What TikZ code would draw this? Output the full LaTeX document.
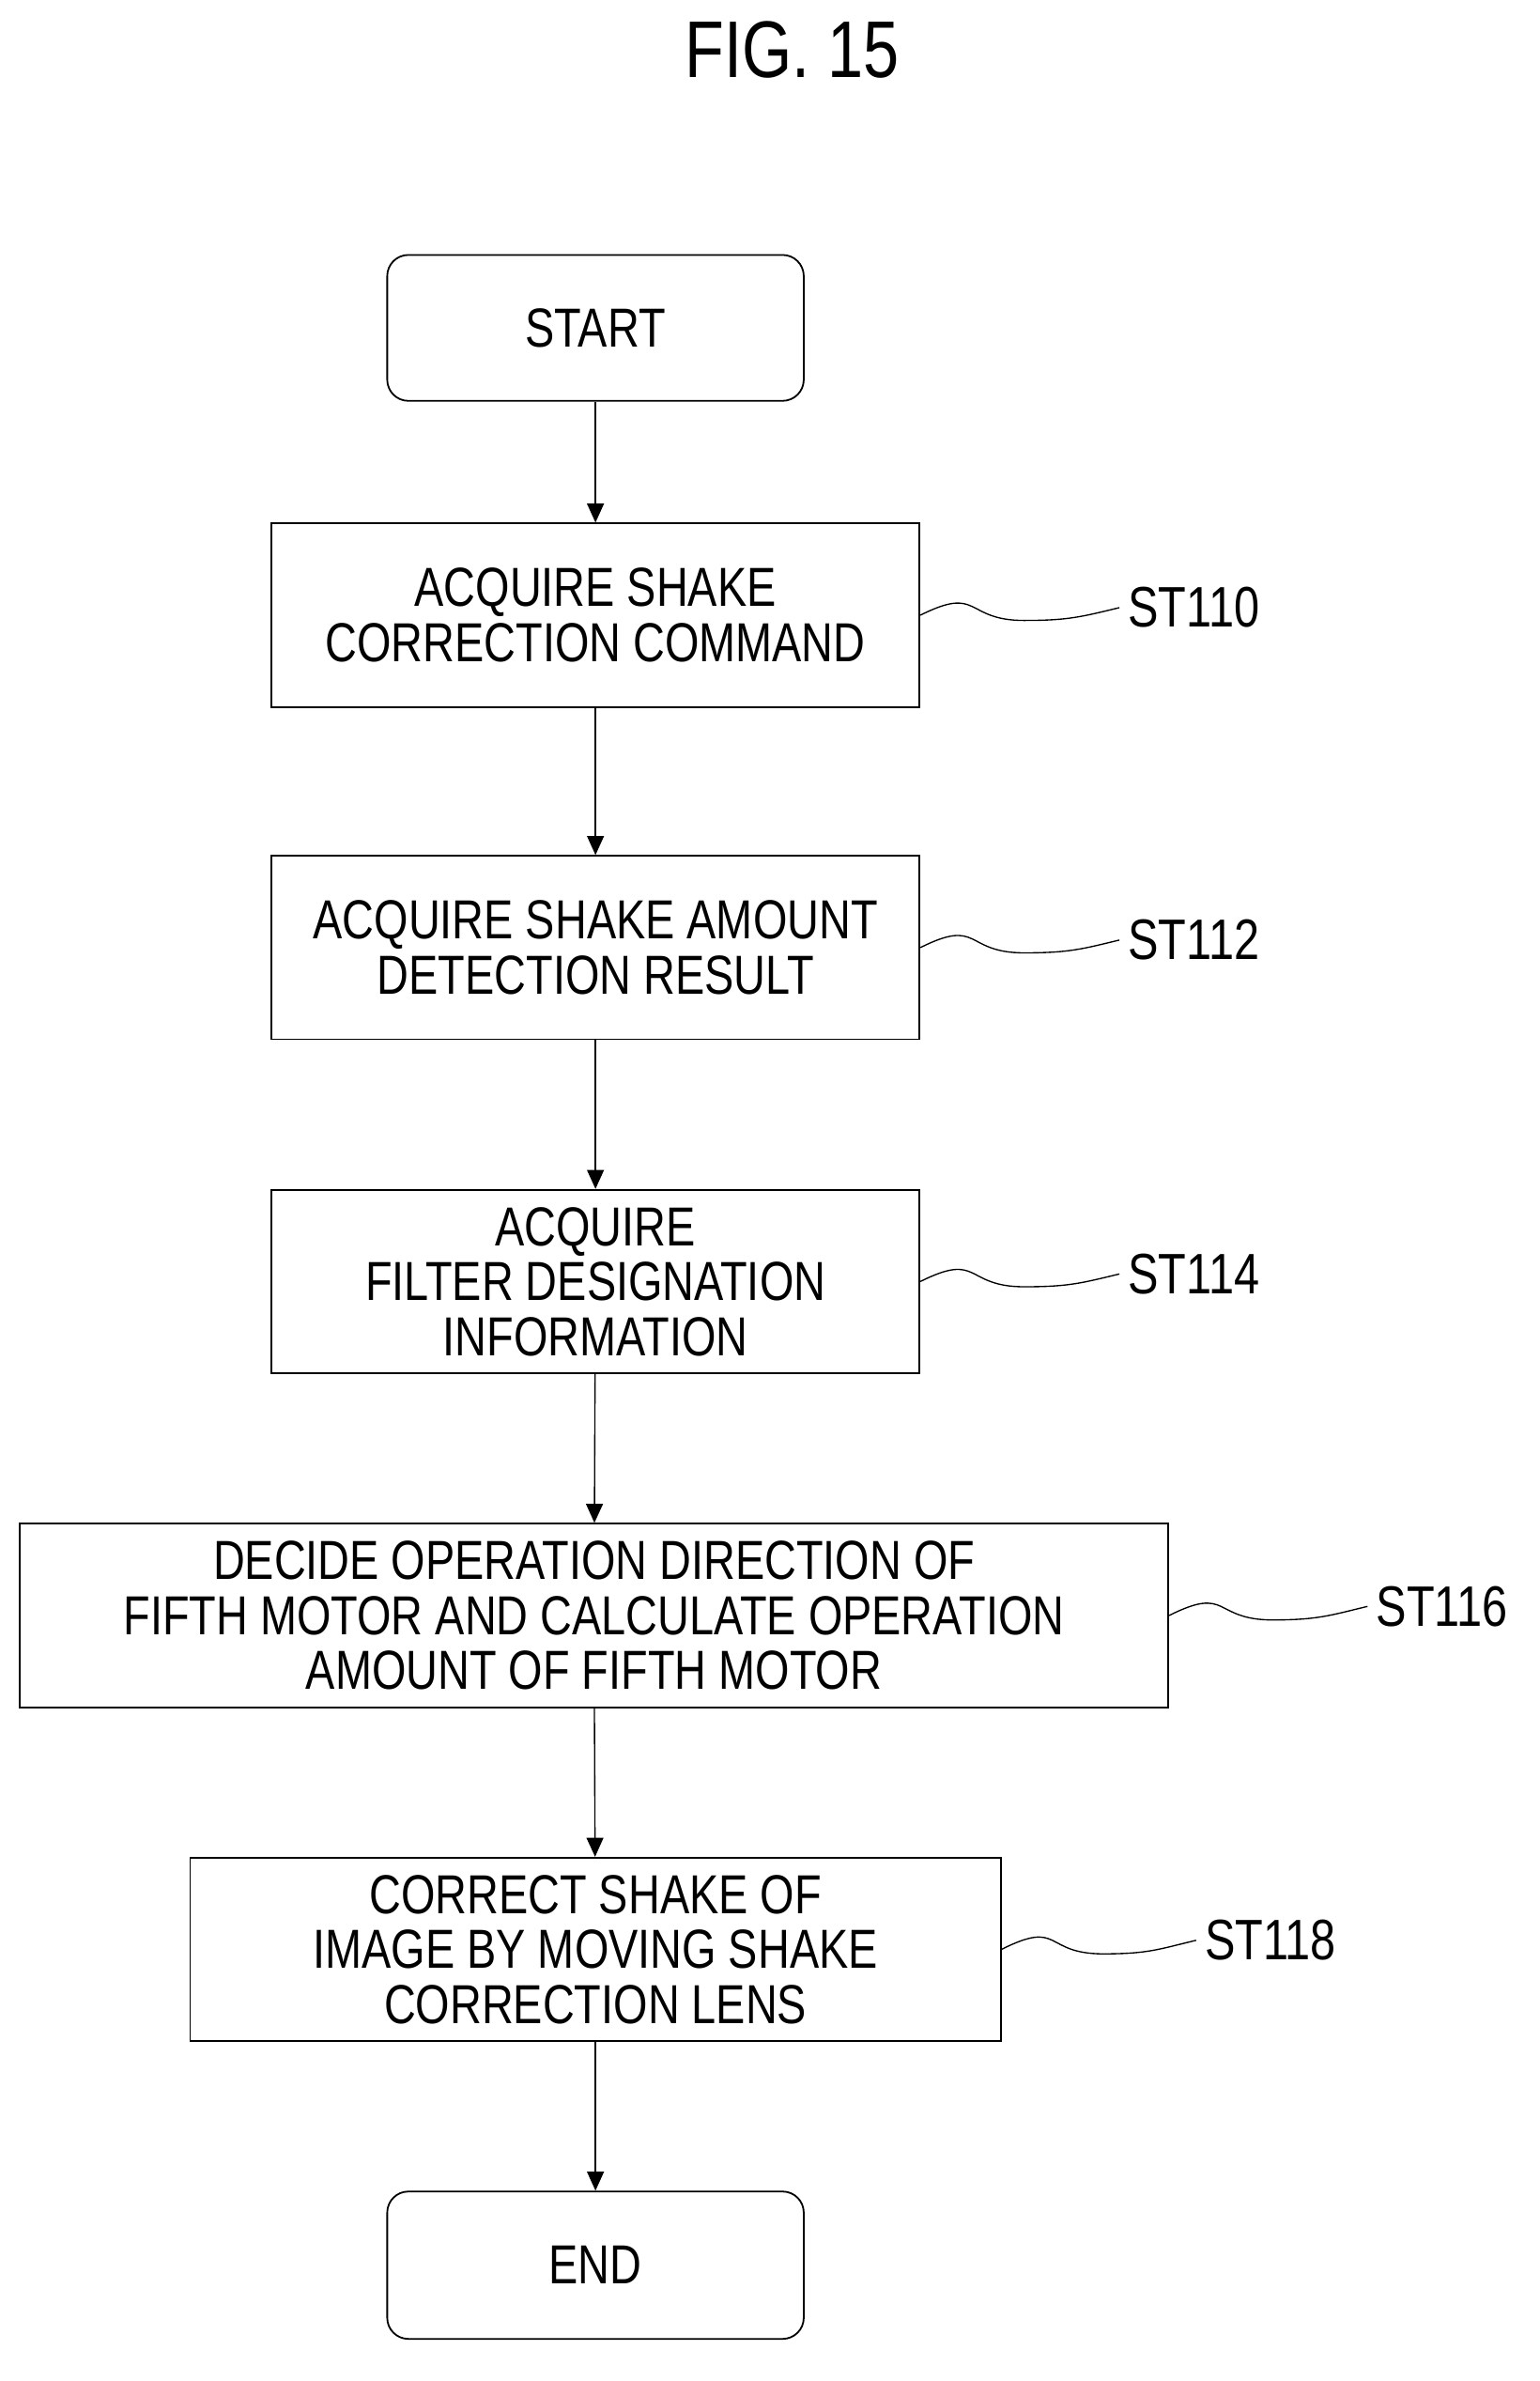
\documentclass[tikz,border=0pt]{standalone}
\usepackage{fontspec}
\setmainfont[FakeStretch=0.8]{Liberation Sans}
\usetikzlibrary{arrows.meta,calc}
\begin{document}
\begin{tikzpicture}[x=0.025cm,y=-0.025cm,
  box/.style={draw,line width=0.8pt,inner sep=0pt,align=center,font=\fontsize{26}{26}\selectfont},
  lbl/.style={font=\fontsize{27}{30}\selectfont,anchor=west,inner sep=0pt},
  arr/.style={-{Triangle[length=9pt,width=8pt]},line width=0.6pt},
  wav/.style={line width=0.6pt}]
\useasboundingbox (0,0) rectangle (1024,1583);
\node[font=\fontsize{38}{44}\selectfont] (title) at (527,33) {FIG. 15};
\node[box,rounded corners=10pt,minimum width=277*0.025cm,minimum height=97*0.025cm] (s) at (396,218) {START};
\node[box,minimum width=431*0.025cm,minimum height=122*0.025cm] (b1) at (396,409) {ACQUIRE SHAKE\\CORRECTION COMMAND};
\node[box,minimum width=431*0.025cm,minimum height=122*0.025cm] (b2) at (396,630) {ACQUIRE SHAKE AMOUNT\\DETECTION RESULT};
\node[box,minimum width=431*0.025cm,minimum height=122*0.025cm] (b3) at (396,852) {ACQUIRE\\FILTER DESIGNATION\\INFORMATION};
\node[box,minimum width=764*0.025cm,minimum height=122*0.025cm] (b4) at (395,1074) {DECIDE OPERATION DIRECTION OF\\FIFTH MOTOR AND CALCULATE OPERATION\\AMOUNT OF FIFTH MOTOR};
\node[box,minimum width=539*0.025cm,minimum height=122*0.025cm] (b5) at (396,1296) {CORRECT SHAKE OF\\IMAGE BY MOVING SHAKE\\CORRECTION LENS};
\node[box,rounded corners=10pt,minimum width=277*0.025cm,minimum height=98*0.025cm] (e) at (396,1506) {END};
\draw[arr] (s) -- (b1);
\draw[arr] (b1) -- (b2);
\draw[arr] (b2) -- (b3);
\draw[arr] (b3) -- (b4);
\draw[arr] (b4) -- (b5);
\draw[arr] (b5) -- (e);
\node[lbl] (l1) at (750,404) {ST110};
\node[lbl] (l2) at (750,625) {ST112};
\node[lbl] (l3) at (750,847) {ST114};
\node[lbl] (l4) at (915,1068) {ST116};
\node[lbl] (l5) at (801,1290) {ST118};
\foreach \b/\l in {b1/l1,b2/l2,b3/l3,b4/l4,b5/l5}{
  \draw[wav] (\b.east) .. controls ++(40,-20) and ++(-40,0) .. ($(\b.east)!0.5!(\l.west)+(0,6)$) .. controls ++(30,0) and ++(-25,6) .. ([xshift=-4pt]\l.west);
}
\end{tikzpicture}
\end{document}
